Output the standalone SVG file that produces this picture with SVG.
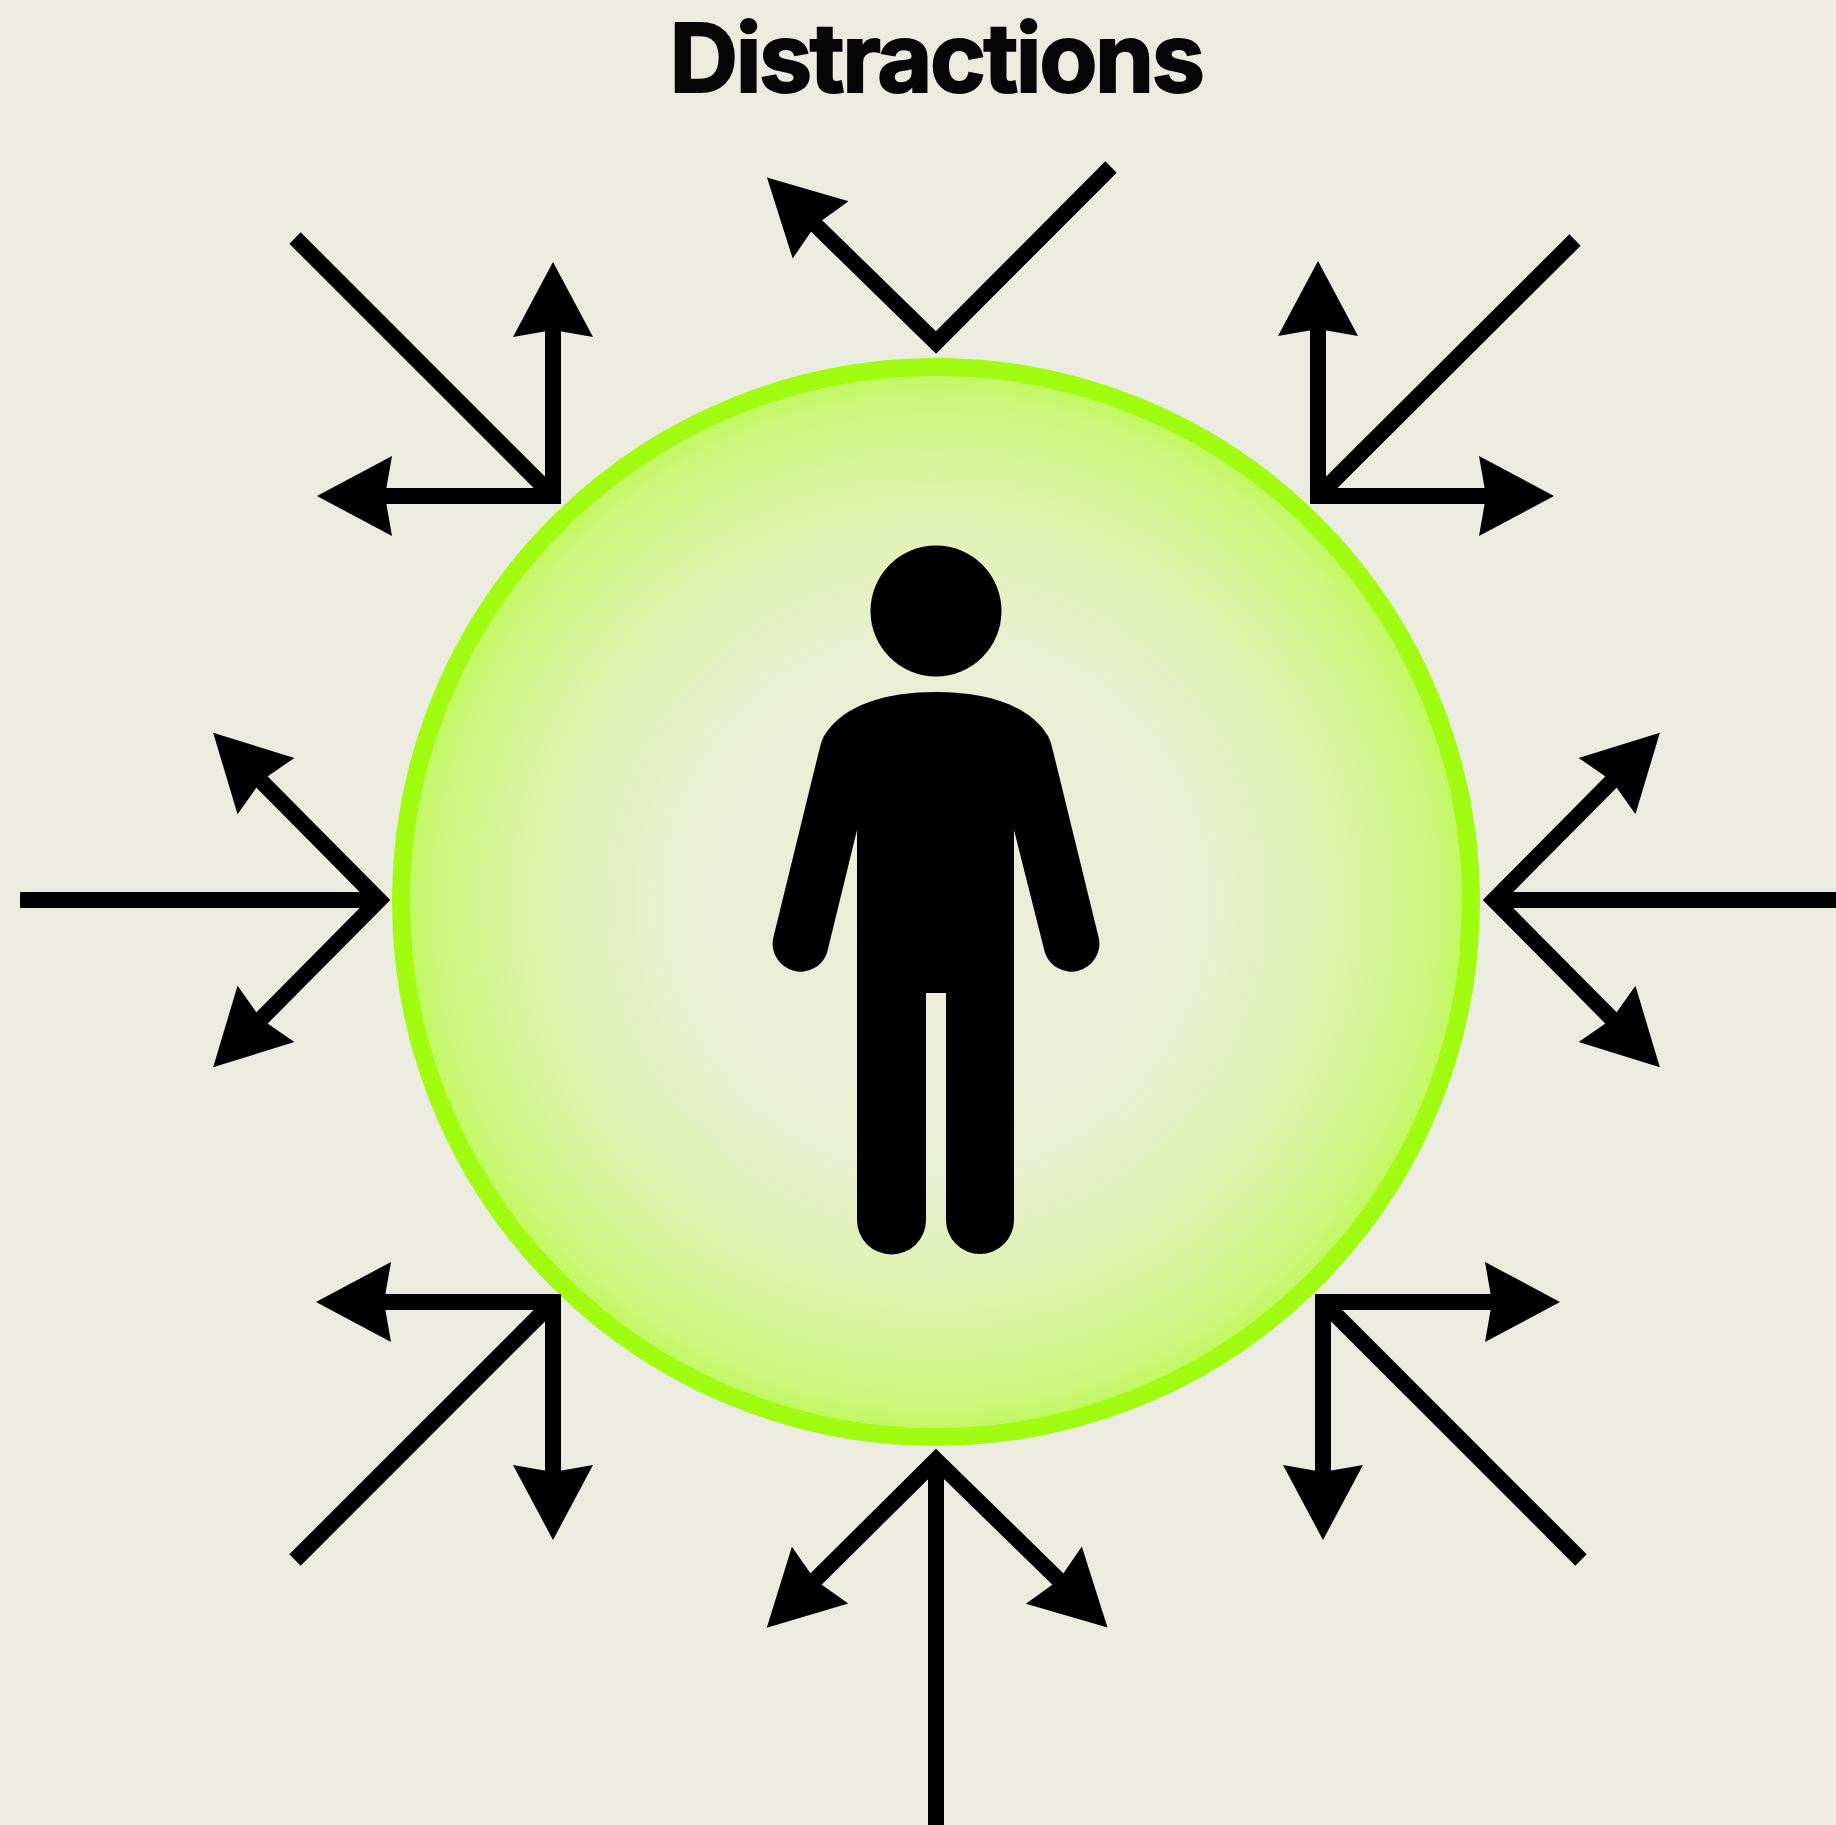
<svg xmlns="http://www.w3.org/2000/svg" width="1836" height="1825" viewBox="0 0 1836 1825">
<style>
.c{fill:none;stroke:#000;stroke-width:16;stroke-linejoin:miter;stroke-miterlimit:6}
.a{marker-start:url(#h);marker-end:url(#h)}
.t{font-family:"Inter","Liberation Sans",sans-serif;font-weight:700;font-size:95px;letter-spacing:-2.4px;fill:#050505;stroke:#050505;stroke-width:2}
</style>
<defs>
<marker id="h" markerUnits="userSpaceOnUse" markerWidth="80" markerHeight="84" viewBox="0 -42 80 84" refX="15" refY="0" orient="auto-start-reverse">
<path d="M75 0L0 -40L7 0L0 40Z" fill="#000"/>
</marker>
<radialGradient id="g" gradientUnits="userSpaceOnUse" cx="936" cy="902" r="535">
<stop offset="0" stop-color="#ECECDF"/>
<stop offset=".5" stop-color="#E9EFD2"/>
<stop offset=".75" stop-color="#DEF3AC"/>
<stop offset=".94" stop-color="#CBF77C"/>
<stop offset="1" stop-color="#BEF858"/>
</radialGradient>
</defs>
<rect width="1836" height="1825" fill="#ECEBDF"/>
<g id="title"><text class="t" x="936" y="92" text-anchor="middle">Distractions</text></g>
<g id="bubble"><circle cx="936" cy="902" r="535" fill="url(#g)" stroke="#A0FB10" stroke-width="18"/></g>
<g id="person">
<circle cx="936" cy="611" r="65.5" fill="#000"/>
<path d="M936 692C885 692 843 705 824 736C821 741 820 748 818 755L773 939A28 28 0 0 0 827 953L857 830V1220A34.5 34.5 0 0 0 926 1220V993H946V1220A34 34 0 0 0 1014 1220V830L1045 953A28 28 0 0 0 1099 939L1054 755C1052 748 1051 741 1048 736C1029 705 987 692 936 692Z" fill="#000"/>
</g>
<g id="connectors">
<g id="top"><path class="c" d="M809.9 219.4L936 342.5L1111 167" style="marker-start:url(#h)"/></g>
<g id="top-left"><path class="c" d="M295 238L553 496"/><path class="c a" d="M377 496H553V322"/></g>
<g id="top-right"><path class="c" d="M1575 240L1318 496"/><path class="c a" d="M1494 496H1318V321"/></g>
<g id="left"><path class="c" d="M20 900H379"/><path class="c a" d="M255.4 775.4L379 900L255.4 1024.6"/></g>
<g id="right"><path class="c" d="M1836 900H1494"/><path class="c a" d="M1617.6 775.4L1494 900L1617.6 1024.6"/></g>
<g id="bottom-left"><path class="c" d="M295 1560L553 1302"/><path class="c a" d="M376 1302H553V1480"/></g>
<g id="bottom-right"><path class="c" d="M1581 1560L1323 1302"/><path class="c a" d="M1500 1302H1323V1480"/></g>
<g id="bottom"><path class="c" d="M936 1825V1460"/><path class="c a" d="M809.4 1585.6L936 1460L1064.6 1585.6"/></g>
</g>
</svg>
